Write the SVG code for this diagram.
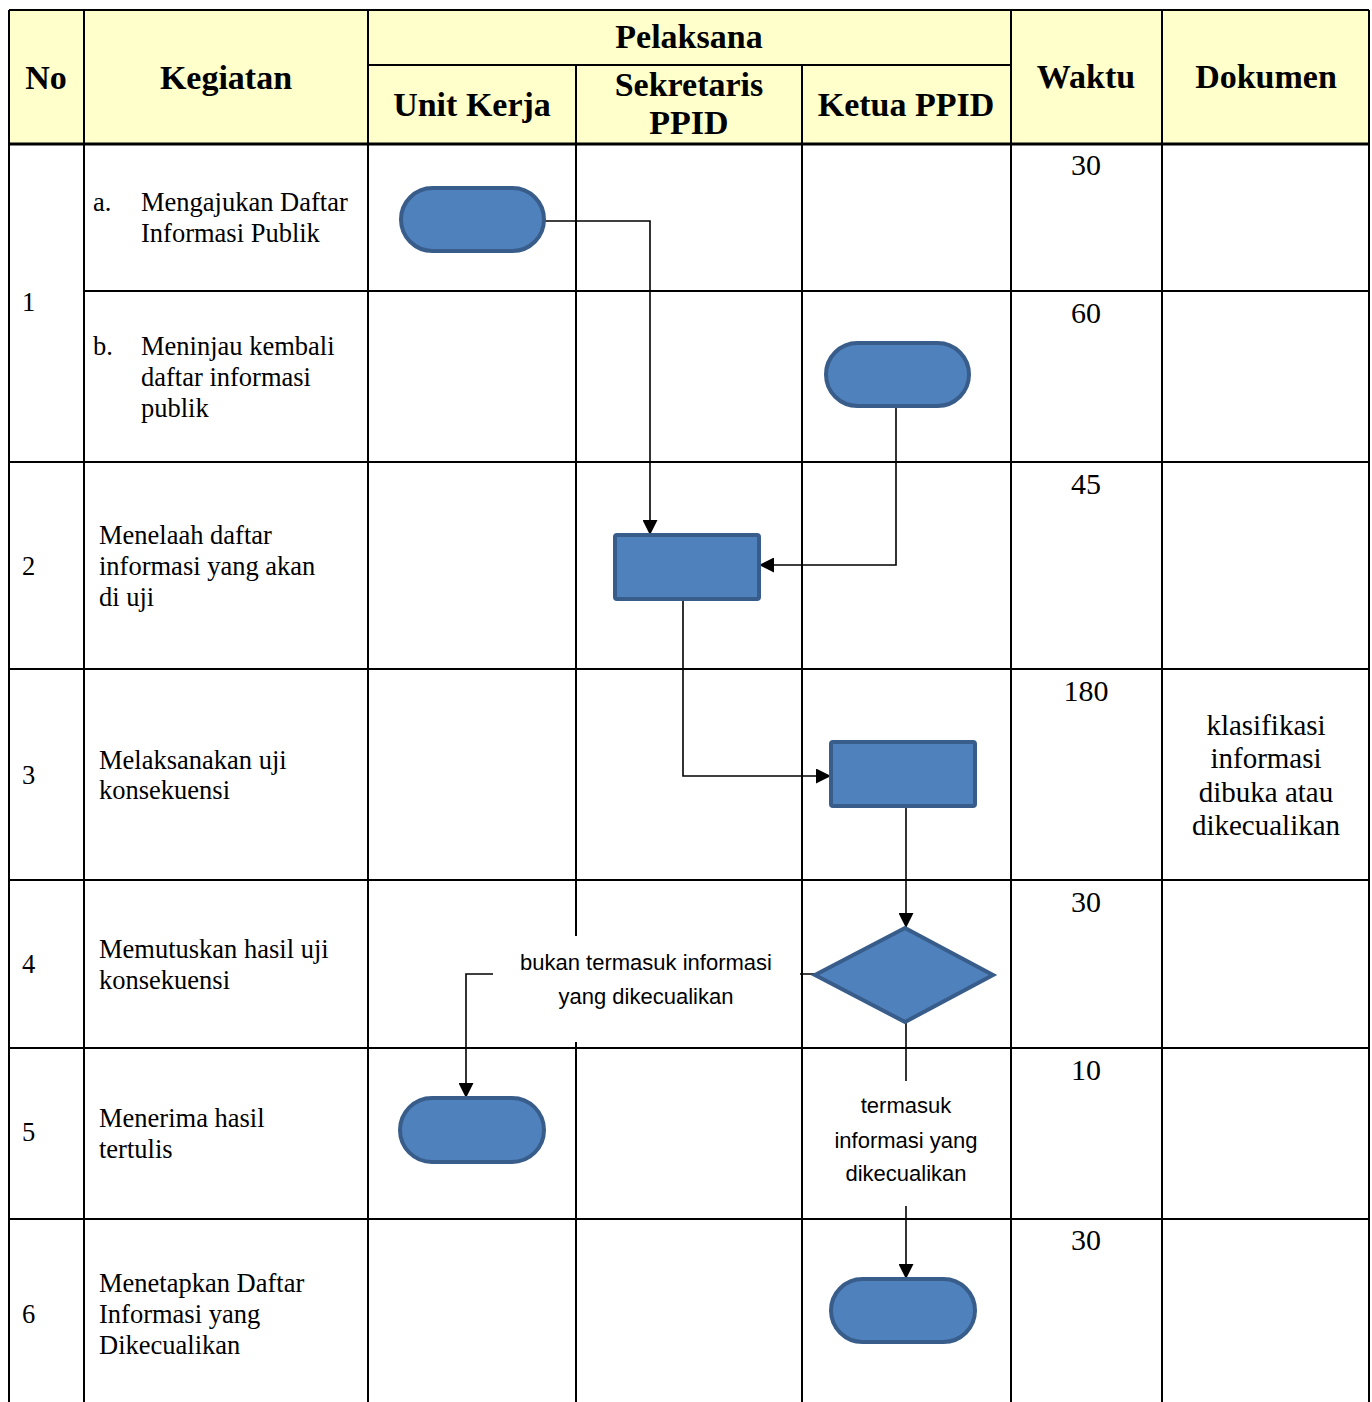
<svg xmlns="http://www.w3.org/2000/svg" width="1372" height="1402" viewBox="0 0 1372 1402">
<style>
.g{stroke:#000;stroke-width:2;fill:none}
.hd{font-family:"Liberation Serif",serif;font-weight:bold;font-size:34px;text-anchor:middle;fill:#000}
.tx{font-family:"Liberation Serif",serif;font-size:26.5px;fill:#000}
.num{font-family:"Liberation Serif",serif;font-size:30px;text-anchor:middle;fill:#000}
.dk{font-family:"Liberation Serif",serif;font-size:29px;text-anchor:middle;fill:#000}
.lb{font-family:"Liberation Sans",sans-serif;font-size:22px;text-anchor:middle;fill:#000}
.sh{fill:#4f81bd;stroke:#385d8a;stroke-width:4}
.cn{stroke:#000;stroke-width:1.6;fill:none}
</style>
<defs>
<marker id="ar2" viewBox="0 0 10 10" refX="10" refY="5" markerWidth="15" markerHeight="15" markerUnits="userSpaceOnUse" orient="auto">
<path d="M0,0 L10,5 L0,10 z" fill="#000"/>
</marker>
</defs>
<rect x="0" y="0" width="1372" height="1402" fill="#fff"/>
<g id="table">
<rect x="9" y="10" width="1360" height="134" fill="#ffffcc"/>
<path class="g" d="M9,10 H1369 M368,65 H1011 M9,144 H1369 M84,291 H1369 M9,462 H1369 M9,669 H1369 M9,880 H1369 M9,1048 H1369 M9,1219 H1369"/>
<path class="g" d="M9,10 V1402 M84,10 V1402 M368,10 V1402 M576,65 V936 M576,1042 V1402 M802,65 V1402 M1011,10 V1402 M1162,10 V1402 M1369,10 V1402"/>
<path d="M9,144 H1369" stroke="#000" stroke-width="3"/>
</g>
<g id="header">
<text class="hd" x="46" y="89">No</text>
<text class="hd" x="226" y="89">Kegiatan</text>
<text class="hd" x="689" y="48">Pelaksana</text>
<text class="hd" x="472" y="116">Unit Kerja</text>
<text class="hd" x="689" y="96">Sekretaris</text>
<text class="hd" x="689" y="134">PPID</text>
<text class="hd" x="906" y="116">Ketua PPID</text>
<text class="hd" x="1086" y="88">Waktu</text>
<text class="hd" x="1266" y="88">Dokumen</text>
</g>
<g id="rows">
<text class="tx" x="22" y="311">1</text>
<text class="tx" x="93" y="211">a.</text>
<text class="tx" x="141" y="211">Mengajukan Daftar</text>
<text class="tx" x="141" y="242">Informasi Publik</text>
<text class="tx" x="93" y="355">b.</text>
<text class="tx" x="141" y="355">Meninjau kembali</text>
<text class="tx" x="141" y="386">daftar informasi</text>
<text class="tx" x="141" y="417">publik</text>
<text class="tx" x="22" y="575">2</text>
<text class="tx" x="99" y="544">Menelaah daftar</text>
<text class="tx" x="99" y="575">informasi yang akan</text>
<text class="tx" x="99" y="606">di uji</text>
<text class="tx" x="22" y="784">3</text>
<text class="tx" x="99" y="769">Melaksanakan uji</text>
<text class="tx" x="99" y="799">konsekuensi</text>
<text class="tx" x="22" y="973">4</text>
<text class="tx" x="99" y="958">Memutuskan hasil uji</text>
<text class="tx" x="99" y="989">konsekuensi</text>
<text class="tx" x="22" y="1141">5</text>
<text class="tx" x="99" y="1127">Menerima hasil</text>
<text class="tx" x="99" y="1158">tertulis</text>
<text class="tx" x="22" y="1323">6</text>
<text class="tx" x="99" y="1292">Menetapkan Daftar</text>
<text class="tx" x="99" y="1323">Informasi yang</text>
<text class="tx" x="99" y="1354">Dikecualikan</text>
</g>
<g id="waktu">
<text class="num" x="1086" y="175">30</text>
<text class="num" x="1086" y="323">60</text>
<text class="num" x="1086" y="494">45</text>
<text class="num" x="1086" y="701">180</text>
<text class="num" x="1086" y="912">30</text>
<text class="num" x="1086" y="1080">10</text>
<text class="num" x="1086" y="1250">30</text>
</g>
<g id="dokumen">
<text class="dk" x="1266" y="735">klasifikasi</text>
<text class="dk" x="1266" y="768">informasi</text>
<text class="dk" x="1266" y="802">dibuka atau</text>
<text class="dk" x="1266" y="835">dikecualikan</text>
</g>
<g id="connectors">
<path class="cn" d="M544,221 H650 V535" marker-end="url(#ar2)"/>
<path class="cn" d="M896,406 V565 H759" marker-end="url(#ar2)"/>
<path class="cn" d="M683,599 V776 H831" marker-end="url(#ar2)"/>
<path class="cn" d="M906,806 V928" marker-end="url(#ar2)"/>
<path class="cn" d="M815,974 H466 V1098" marker-end="url(#ar2)"/>
<path class="cn" d="M906,1022 V1279" marker-end="url(#ar2)"/>
<rect x="493" y="937" width="307" height="104" fill="#fff"/>
<rect x="826" y="1081" width="160" height="125" fill="#fff"/>
<text class="lb" x="646" y="970">bukan termasuk informasi</text>
<text class="lb" x="646" y="1004">yang dikecualikan</text>
<text class="lb" x="906" y="1113">termasuk</text>
<text class="lb" x="906" y="1148">informasi yang</text>
<text class="lb" x="906" y="1181">dikecualikan</text>
</g>
<g id="n1a"><rect class="sh" x="401" y="188" width="143" height="63" rx="31.5"/></g>
<g id="n1b"><rect class="sh" x="826" y="343" width="143" height="63" rx="31.5"/></g>
<g id="n2"><rect class="sh" x="615" y="535" width="144" height="64" rx="2"/></g>
<g id="n3"><rect class="sh" x="831" y="742" width="144" height="64" rx="2"/></g>
<g id="n4"><polygon class="sh" points="905,928 993,975 905,1022 815,975"/></g>
<g id="n5"><rect class="sh" x="400" y="1098" width="144" height="64" rx="32"/></g>
<g id="n6"><rect class="sh" x="831" y="1279" width="144" height="63" rx="31.5"/></g>
</svg>
